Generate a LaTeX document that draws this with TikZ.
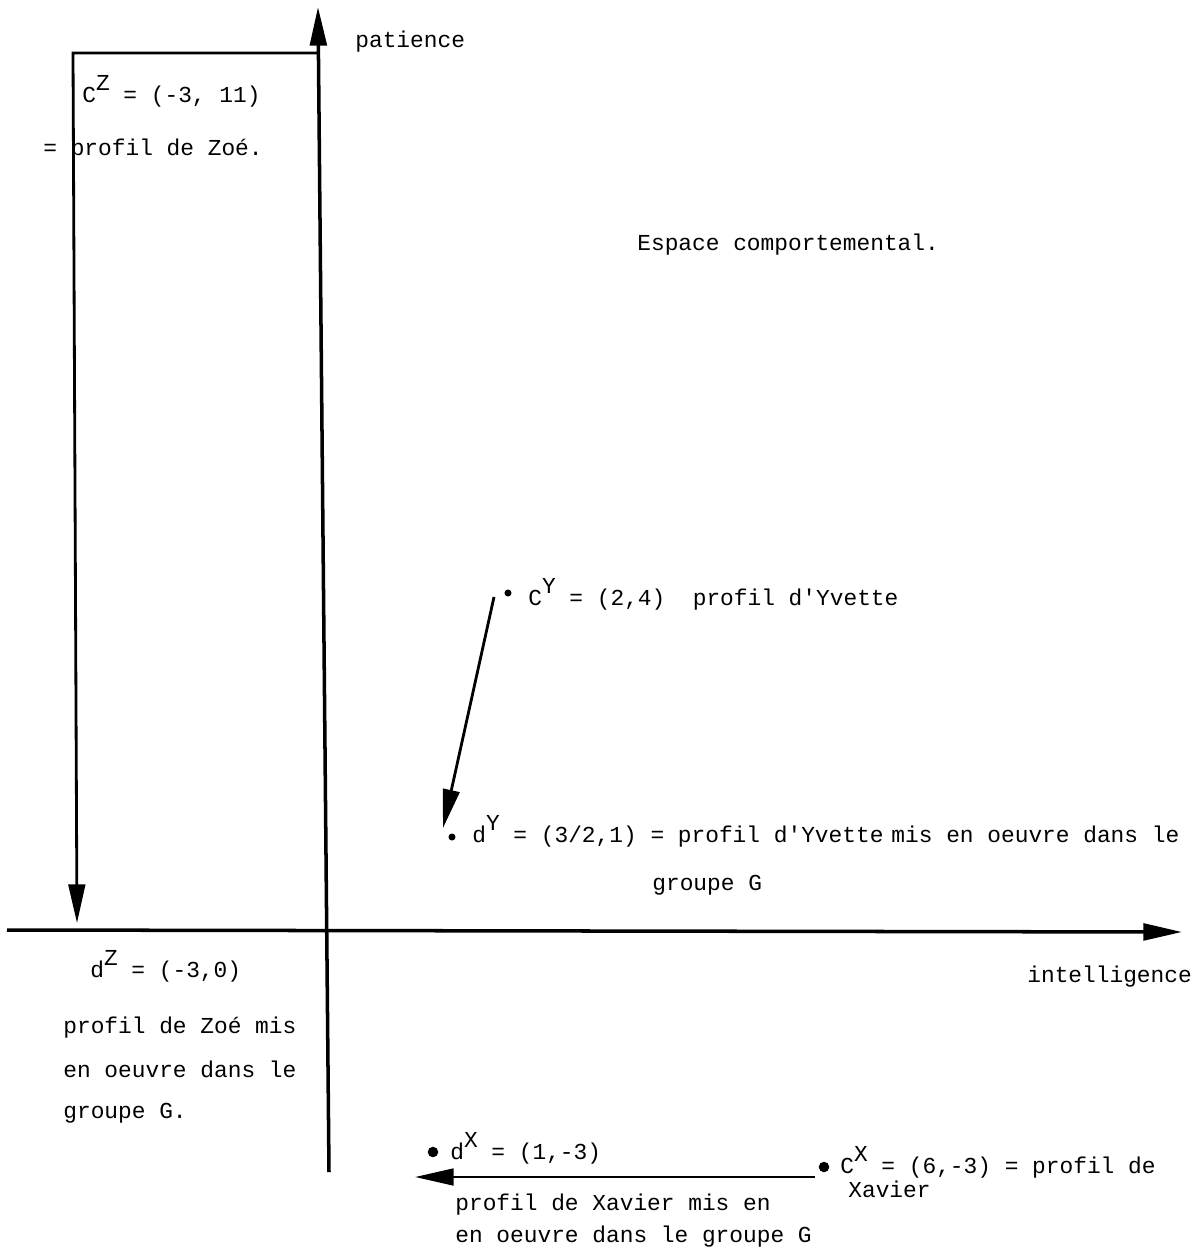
\documentclass[tikz,border=0pt]{standalone}
\usepackage{fontspec}
\setmainfont{Liberation Mono}
\usepackage{tikz}
\usetikzlibrary{arrows.meta,positioning}
\newcommand{\expo}[1]{\raisebox{6.5pt}{#1}}

\begin{document}
\begin{tikzpicture}[
    x=0.02cm, y=-0.02cm,
    lbl/.style={anchor=base west, inner sep=0pt, font=\fontsize{13pt}{15pt}\selectfont},
    axis/.style={-{Triangle[length=22pt,width=9.5pt]}, line width=2pt},
    arrow/.style={-{Triangle[length=22pt,width=9.5pt]}, line width=1.6pt},
    dot/.style={circle, fill, inner sep=0pt, minimum size=4pt},
    bullet/.style={circle, fill, inner sep=0pt, minimum size=6pt},
]
    \useasboundingbox (0,0) rectangle (1197,1259);

    % axes
    \coordinate (yBot) at (329,1172);
    \coordinate (yTop) at (318,7);
    \coordinate (xLeft) at (7,930);
    \coordinate (xRight) at (1182,932);
    \draw[axis] (yBot) -- (yTop);
    \draw[axis] (xLeft) -- (xRight);
    \node[lbl] (patience) at (355,47) {patience};
    \node[lbl] (intel) at (1027,982) {intelligence};
    \node[lbl] (espace) at (637,250) {Espace comportemental.};

    % Zoe
    \coordinate (zJoin) at (319,53);
    \coordinate (zCorner) at (73,53);
    \coordinate (zEnd) at (77,923);
    \draw[arrow] (zJoin) -- (zCorner) -- (zEnd);
    \node[lbl] (cZ) at (82,102) {C\expo{Z} = (-3, 11)};
    \node[lbl] (cZtxt) at (43,155) {= profil de Zoé.};
    \node[lbl] (dZ) at (90,977) {d\expo{Z} = (-3,0)};
    \node[lbl] (dZa) at (63,1033) {profil de Zoé mis};
    \node[lbl] (dZb) at (63,1077) {en oeuvre dans le};
    \node[lbl] (dZc) at (63,1118) {groupe G.};

    % Yvette
    \node[dot] (cY) at (508,593) {};
    \node[dot] (dY) at (452,837) {};
    \draw[arrow] ([shift={(-14,4)}]cY.center) -- ([shift={(-9,-9)}]dY.center);
    \node[lbl] (cYtxt) at (528,605) {C\expo{Y} = (2,4)\ \ profil d\textquotesingle Yvette};
    \node[lbl] (dYtxt) at (472,842) {d\expo{Y} = (3/2,1) = profil d\textquotesingle Yvette\hspace{-0.25em} mis en oeuvre dans le};
    \node[lbl] (dYtxt2) at (652,890) {groupe G};

    % Xavier
    \node[bullet] (dX) at (433,1152) {};
    \node[bullet] (cX) at (824,1167) {};
    \draw[arrow] ([shift={(-9,10)}]cX.center) -- ([shift={(-18,25)}]dX.center);
    \node[lbl] (dXtxt) at (450,1159) {d\expo{X} = (1,-3)};
    \node[lbl] (cXtxt) at (840,1173) {C\expo{X} = (6,-3) = profil de};
    \node[lbl] (cXtxt2) at (848,1197) {Xavier};
    \node[lbl] (dXa) at (455,1210) {profil de Xavier mis en};
    \node[lbl] (dXb) at (455,1242) {en oeuvre dans le groupe G};
\end{tikzpicture}
\end{document}
